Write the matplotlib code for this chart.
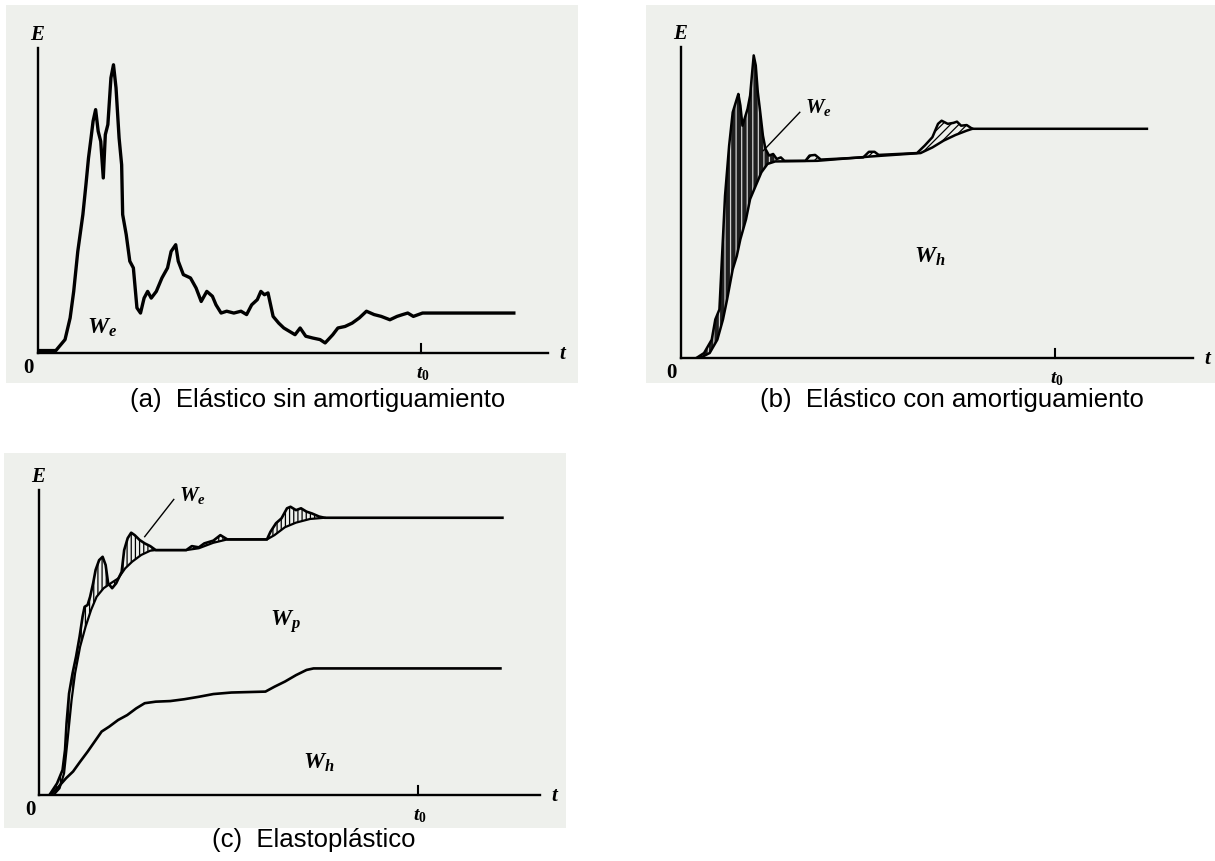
import numpy as np
import matplotlib
matplotlib.use('Agg')
import matplotlib.pyplot as plt
from matplotlib.patches import Rectangle

W, H = 1215, 861

plt.rcParams['mathtext.fontset'] = 'custom'
plt.rcParams['mathtext.it'] = 'Liberation Serif:italic:bold'
plt.rcParams['mathtext.rm'] = 'Liberation Serif:bold'
plt.rcParams['mathtext.bf'] = 'Liberation Serif:bold'
plt.rcParams['hatch.linewidth'] = 0.9

# (a) elastico sin amortiguamiento: energia elastica W_e
ta = [0, 3.5, 5.3, 6.3, 7.0, 7.8, 8.8, 9.4, 9.9, 10.4, 10.8, 11.3, 11.8, 12.3, 12.8,
      13.2, 13.7, 14.3, 14.8, 15.3, 15.9, 16.4, 16.6, 17.3, 18.0, 18.7, 19.4, 20.1,
      20.8, 21.5, 22.2, 23.2, 24.3, 25.4, 26.1, 27.0, 27.5, 28.5, 29.9, 31.0, 32.0,
      33.1, 34.2, 34.9, 35.9, 37.0, 38.4, 39.8, 40.9, 41.9, 43.0, 43.7, 44.4, 45.1,
      46.1, 47.2, 48.2, 50.4, 51.4, 52.5, 53.9, 55.3, 56.3, 57.8, 58.8, 60.2, 61.6,
      63.0, 64.4, 65.9, 67.3, 69.0, 70.4, 71.5, 72.5, 73.6, 75.4, 93.3]
ea = [0.8, 0.8, 4.4, 11.5, 20.2, 33.3, 45.4, 55.2, 63.9, 70.5, 76.0, 79.8, 72.7, 69.4,
      57.4, 71.6, 74.9, 90.2, 94.5, 86.9, 70.5, 61.7, 45.4, 38.8, 30.1, 27.9, 14.8,
      13.1, 18.0, 20.2, 18.0, 20.2, 24.6, 27.9, 33.3, 35.5, 30.1, 25.7, 24.6, 21.3,
      16.9, 20.2, 18.6, 15.8, 13.1, 13.7, 13.1, 13.7, 12.6, 15.8, 17.5, 20.2, 19.1,
      19.7, 12.0, 9.8, 8.2, 6.0, 8.2, 5.5, 4.9, 4.4, 3.3, 6.0, 8.2, 8.7, 9.8, 11.5,
      13.7, 12.6, 12.0, 10.9, 12.0, 12.6, 13.1, 12.0, 13.1, 13.1]

# (b) elastico con amortiguamiento: energia de entrada y energia disipada W_h
tb_in = [3.0, 4.5, 6.0, 6.7, 7.5, 8.6, 9.4, 10.1, 10.9, 11.2, 11.6, 12.0, 13.0, 13.5,
         13.9, 14.2, 14.6, 15.0, 15.4, 16.0, 16.5, 17.2, 18.0, 18.7, 19.5, 20.2, 24.3,
         25.1, 26.2, 27.3, 35.6, 36.7, 37.8, 38.6, 46.1, 47.6, 49.1, 50.2, 50.9, 52.1,
         53.2, 53.9, 54.7, 55.8, 56.9, 91.0]
eb_in = [0, 1.6, 5.9, 12.4, 15.6, 52.2, 68.3, 79.0, 83.3, 84.9, 81.2, 74.7, 80.1, 84.4,
         91.9, 97.3, 94.1, 85.5, 80.1, 71.5, 67.2, 65.1, 65.6, 64.0, 64.5, 63.4, 63.4,
         65.1, 65.3, 63.8, 64.5, 66.3, 66.3, 65.3, 65.9, 68.3, 71.0, 75.3, 76.3, 75.3,
         75.6, 76.0, 74.7, 74.9, 73.7, 73.7]
tb_h = [3.7, 5.6, 7.1, 8.2, 9.0, 10.1, 10.9, 11.6, 12.7, 13.5, 14.6, 15.7, 16.9, 18.4,
        26.6, 37.1, 46.8, 49.1, 51.3, 53.6, 55.8, 56.9]
eb_h = [0, 1.6, 5.9, 12.4, 18.8, 28.5, 32.8, 38.2, 44.6, 51.1, 55.4, 59.7, 62.4, 63.2,
        63.4, 64.8, 65.9, 67.7, 69.9, 71.7, 73.1, 73.7]

# (c) elastoplastico: energia de entrada, W_e + W_h + W_p y W_h
tc_in = [2.2, 3.6, 4.7, 5.2, 5.5, 6.0, 6.7, 7.4, 8.1, 8.7, 9.1, 9.7, 10.2, 10.8, 11.3,
         12.0, 12.7, 13.3, 13.8, 14.6, 15.4, 16.5, 17.0, 17.7, 18.4, 19.1, 20.1, 21.1,
         22.2, 23.3, 29.4, 30.5, 31.9, 33.0, 34.8, 36.2, 36.9, 37.6, 45.5, 46.2, 47.3,
         48.4, 49.5, 50.2, 51.3, 52.3, 53.4, 54.5, 55.9, 57.0, 92.5]
ec_in = [0.3, 3.8, 8.2, 14.8, 23.5, 33.3, 39.9, 45.4, 51.9, 58.5, 61.7, 62.3, 65.0,
         69.4, 73.8, 77.0, 78.1, 75.4, 69.4, 67.8, 69.4, 73.2, 80.3, 84.2, 86.0, 85.2,
         83.6, 82.5, 81.6, 80.3, 80.3, 81.6, 81.2, 82.5, 83.4, 85.2, 84.5, 83.8, 83.8,
         86.3, 89.1, 90.7, 94.0, 94.5, 93.4, 94.0, 92.9, 92.3, 91.3, 90.9, 90.9]
tc_p = [2.9, 4.1, 5.0, 5.7, 6.5, 7.2, 8.2, 9.3, 10.4, 11.5, 12.9, 14.3, 15.8, 17.2,
        18.6, 20.4, 22.2, 23.3, 29.4, 31.9, 34.8, 37.6, 45.5, 47.0, 49.1, 51.3, 54.1, 57.0]
ec_p = [0, 2.2, 7.1, 18.0, 31.1, 39.9, 48.6, 55.2, 60.7, 65.0, 67.8, 69.4, 71.0, 74.3,
        76.5, 78.7, 80.1, 80.3, 80.3, 80.9, 82.7, 83.8, 83.8, 85.2, 87.8, 89.3, 90.5, 90.9]
tc_h = [2.5, 3.9, 5.4, 6.8, 8.2, 9.7, 11.1, 12.5, 14.0, 15.8, 17.6, 19.4, 21.1, 23.3,
        26.2, 29.0, 31.9, 34.8, 38.4, 45.2, 47.0, 49.1, 51.3, 53.4, 54.8, 92.1]
ec_h = [0.3, 2.7, 5.5, 7.7, 10.9, 14.2, 17.5, 20.8, 22.4, 24.6, 26.2, 28.4, 30.1, 30.6,
        30.8, 31.4, 32.2, 33.1, 33.6, 33.9, 35.5, 37.2, 39.3, 41.0, 41.5, 41.5]

t0_pos = [75.0, 73.0, 75.6]
captions = ['(a)  Elástico sin amortiguamiento',
            '(b)  Elástico con amortiguamiento',
            '(c)  Elastoplástico']

fig = plt.figure(figsize=(W / 100, H / 100), dpi=100)
fig.patch.set_facecolor('white')


def scan(x0, y0, x1, y1):
    # fondo gris claro de cada figura escaneada
    fig.patches.append(Rectangle((x0 / W, 1 - y1 / H), (x1 - x0) / W, (y1 - y0) / H,
                                 transform=fig.transFigure, facecolor='#eef0ec',
                                 edgecolor='none', zorder=-10))


def panel(ox, oy, xend, ytop, t0):
    ax = fig.add_axes([ox / W, 1 - oy / H, (xend - ox) / W, (oy - ytop) / H])
    ax.set_zorder(1)
    ax.set_xlim(0, 100)
    ax.set_ylim(0, 100)
    ax.patch.set_visible(False)
    for s in ['top', 'right']:
        ax.spines[s].set_visible(False)
    for s in ['left', 'bottom']:
        ax.spines[s].set_linewidth(1.7)
    ax.set_xticks([])
    ax.set_yticks([])
    ax.text(0, 104.5, '$E$', ha='center', va='center', fontsize=15)
    ax.text(-1.8, -4.8, '0', ha='center', va='center', fontsize=15,
            family='Liberation Serif', weight='bold')
    ax.text(103, 0, '$t$', ha='center', va='center', fontsize=15)
    ax.plot([t0, t0], [0, 2.8], color='k', lw=1.5, clip_on=False)
    ax.text(t0 + 0.5, -6.6, '$t_0$', ha='center', va='center', fontsize=14)
    return ax


# (a)
scan(6, 5, 578, 383)
ax = panel(38, 353, 548, 48, t0_pos[0])
ax.plot(ta, ea, color='k', lw=2.4, solid_joinstyle='round')
ax.text(12.5, 8.5, '$W_e$', ha='center', va='center', fontsize=17)

# (b)
scan(646, 5, 1215, 383)
ax = panel(681, 358, 1193, 47, t0_pos[1])
tb_in, eb_in, tb_h, eb_h = map(np.array, (tb_in, eb_in, tb_h, eb_h))
cut = 19.6
m_in, m_h = tb_in <= cut, tb_h <= cut
ax.fill(np.concatenate([tb_in[m_in], tb_h[m_h][::-1]]),
        np.concatenate([eb_in[m_in], eb_h[m_h][::-1]]),
        facecolor='#1e1e1e', edgecolor='#cfcfcf', hatch='|||', linewidth=0)
m_in, m_h = tb_in >= cut, tb_h >= 18.4
ax.fill(np.concatenate([tb_in[m_in], tb_h[m_h][::-1]]),
        np.concatenate([eb_in[m_in], eb_h[m_h][::-1]]),
        facecolor='none', edgecolor='k', hatch='////', linewidth=0)
ax.plot(tb_in, eb_in, color='k', lw=1.8)
ax.plot(tb_h, eb_h, color='k', lw=1.8)
ax.plot([23.2, 16.1], [79.0, 66.7], color='k', lw=1.0)
ax.text(24.2, 80.5, '$W_e$', ha='left', va='center', fontsize=15)
ax.text(48.5, 32.8, '$W_h$', ha='center', va='center', fontsize=17)

# (c)
scan(4, 453, 566, 828)
ax = panel(39, 795, 540, 490, t0_pos[2])
ax.fill(np.concatenate([tc_in, tc_p[::-1]]), np.concatenate([ec_in, ec_p[::-1]]),
        facecolor='none', edgecolor='k', hatch='||||', linewidth=0)
ax.plot(tc_in, ec_in, color='k', lw=1.9)
ax.plot(tc_p, ec_p, color='k', lw=1.6)
ax.plot(tc_h, ec_h, color='k', lw=1.9)
ax.plot([26.9, 21.1], [96.9, 84.7], color='k', lw=1.0)
ax.text(28.0, 98.2, '$W_e$', ha='left', va='center', fontsize=15)
ax.text(49.1, 56.8, '$W_p$', ha='center', va='center', fontsize=17)
ax.text(55.9, 10.9, '$W_h$', ha='center', va='center', fontsize=17)

# leyendas bajo cada figura
for (cx, cy), txt in zip([(318, 400), (952, 400), (314, 840)], captions):
    fig.text(cx / W, 1 - cy / H, txt, ha='center', va='center', fontsize=18.5,
             family='Liberation Sans')

fig.savefig('out.png', dpi=100, facecolor='white')
